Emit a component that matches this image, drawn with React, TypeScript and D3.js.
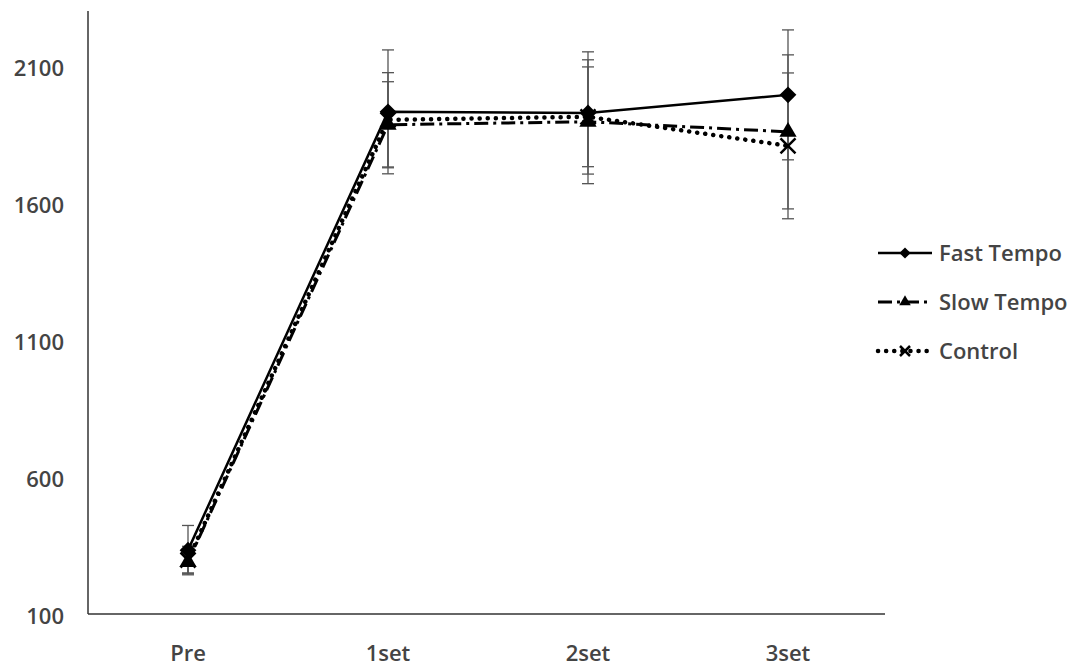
import React from 'react';
import * as d3 from 'd3';

const categories = ['Pre', '1set', '2set', '3set'];
const fastTempo = [333, 1932, 1928, 1994];
const slowTempo = [290, 1885, 1896, 1859];
const control = [297, 1903, 1914, 1808];
const fastErr = [90, 226, 223, 237];
const slowErr = [40, 157, 226, 281];
const controlErr = [50, 172, 182, 266];
const yTicks = [100, 600, 1100, 1600, 2100];

const series = [
  { name: 'Fast Tempo', values: fastTempo, err: fastErr, dash: null, width: 2.5, cap: 'butt', marker: 'diamond' },
  { name: 'Slow Tempo', values: slowTempo, err: slowErr, dash: '14,5,3,5', width: 3, cap: 'butt', marker: 'triangle' },
  { name: 'Control', values: control, err: controlErr, dash: '0.1,8', width: 4.5, cap: 'round', marker: 'x' },
];

const Marker = (props: { kind: string; x: number; y: number; s: number }) => {
  const { kind, x, y, s } = props;
  if (kind === 'diamond') {
    const p = d3.symbol().type(d3.symbolDiamond2).size(s * s * 0.55)();
    return <path d={p as string} transform={`translate(${x},${y})`} fill="#000" />;
  }
  if (kind === 'triangle') {
    const p = d3.symbol().type(d3.symbolTriangle).size(s * s * 0.4)();
    return <path d={p as string} transform={`translate(${x},${y})`} fill="#000" />;
  }
  const h = s / 2.4;
  return (
    <g stroke="#000" strokeWidth={2.5}>
      <line x1={x - h} y1={y - h} x2={x + h} y2={y + h} />
      <line x1={x - h} y1={y + h} x2={x + h} y2={y - h} />
    </g>
  );
};

export default function App() {
  const svgWidth = 1080;
  const svgHeight = 667;
  const left = 88;
  const right = 888;
  const top = 11;
  const bottom = 614;

  const x = d3.scaleBand().domain(categories).range([left, right]);
  const y = d3.scaleLinear().domain([100, 2300]).range([bottom, top]);
  const cx = (c: string) => (x(c) as number) + x.bandwidth() / 2;

  const line = d3
    .line<number>()
    .x((d, i) => cx(categories[i]))
    .y((d) => y(d));

  const font = "'Open Sans', 'Noto Sans', sans-serif";
  const textColor = '#444';
  const fs = 22;

  return (
    <svg
      width={svgWidth}
      height={svgHeight}
      style={{ position: 'absolute', left: 0, top: 0, background: '#fff' }}
    >
      {/* error bars */}
      {series.map((s) =>
        s.values.map((v, i) => {
          const px = cx(categories[i]);
          const y1 = y(v + s.err[i]);
          const y2 = y(v - s.err[i]);
          return (
            <g key={s.name + i} stroke="#555" strokeWidth={1.3}>
              <line x1={px} x2={px} y1={y1} y2={y2} />
              <line x1={px - 6} x2={px + 6} y1={y1} y2={y1} />
              <line x1={px - 6} x2={px + 6} y1={y2} y2={y2} />
            </g>
          );
        })
      )}

      {/* axes */}
      <g stroke="#333" strokeWidth={1.5} fill="none">
        <line x1={left} x2={left} y1={top} y2={bottom} />
        <line x1={left} x2={right - 3} y1={bottom} y2={bottom} />
      </g>

      {yTicks.map((t) => (
        <text
          key={t}
          x={64}
          y={y(t) + 2}
          dy="0.35em"
          textAnchor="end"
          fontFamily={font}
          fontSize={fs}
          fontWeight={600}
          fill={textColor}
        >
          {t}
        </text>
      ))}
      {categories.map((c) => (
        <text
          key={c}
          x={cx(c)}
          y={661}
          textAnchor="middle"
          fontFamily={font}
          fontSize={fs}
          fontWeight={600}
          fill={textColor}
        >
          {c}
        </text>
      ))}

      {/* lines */}
      {series.map((s) => (
        <path
          key={s.name}
          d={line(s.values) as string}
          fill="none"
          stroke="#000"
          strokeWidth={s.width}
          strokeDasharray={s.dash || undefined}
          strokeLinecap={s.cap as any}
        />
      ))}
      {series.map((s) =>
        s.values.map((v, i) => (
          <Marker key={s.name + 'm' + i} kind={s.marker} x={cx(categories[i])} y={y(v)} s={18} />
        ))
      )}

      {/* legend */}
      {series.map((s, i) => {
        const ly = 253 + i * 49;
        return (
          <g key={s.name + 'leg'}>
            <line
              x1={878}
              x2={932}
              y1={ly}
              y2={ly}
              stroke="#000"
              strokeWidth={s.width}
              strokeDasharray={s.dash || undefined}
              strokeLinecap={s.cap as any}
            />
            <Marker kind={s.marker} x={905} y={ly} s={12} />
            <text
              x={939}
              y={ly}
              dy="0.35em"
              fontFamily={font}
              fontSize={fs}
              fontWeight={600}
              fill={textColor}
            >
              {s.name}
            </text>
          </g>
        );
      })}
    </svg>
  );
}
